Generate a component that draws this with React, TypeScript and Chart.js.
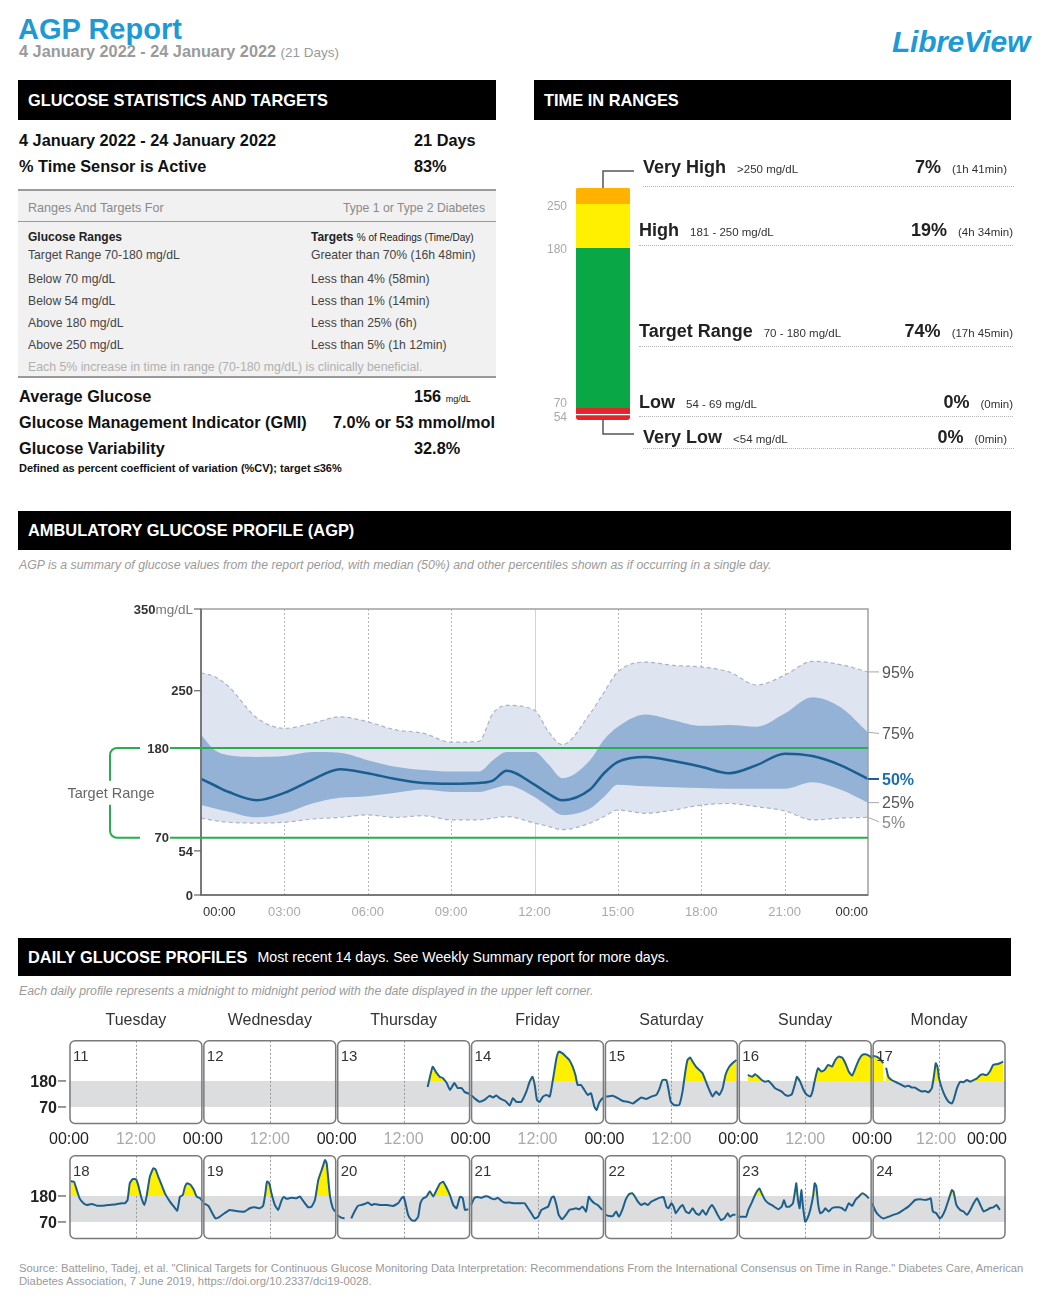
import React, { useEffect, useRef } from 'react';
import { Chart, registerables } from 'chart.js';

Chart.register(...registerables);

const FONT = '"Liberation Sans", Arial, Helvetica, sans-serif';

// ---------------- Time in ranges ----------------
const tirNames = ['Very Low', 'Low', 'Target Range', 'High', 'Very High'];
const tirRanges = ['<54 mg/dL', '54 - 69 mg/dL', '70 - 180 mg/dL', '181 - 250 mg/dL', '>250 mg/dL'];
const tirPercent = [0, 0, 74, 19, 7];
const tirTimes = ['(0min)', '(0min)', '(17h 45min)', '(4h 34min)', '(1h 41min)'];
const tirColors = ['#e3242b', '#e3242b', '#0aa746', '#fff000', '#ffb300'];
const tirBoundLabels = ['54', '70', '180', '250'];
const tirMinShare = 2.5;

// ---------------- AGP percentiles ----------------
const agpHours = [0, 0.5, 1, 2, 3, 4, 5, 6, 7, 8, 9, 10, 10.5, 11, 12, 12.5, 13, 14, 14.5, 15, 16, 17, 18, 19, 20, 21, 22, 23, 24];
const p95 = [272, 267, 255, 217, 204, 210, 218, 212, 202, 198, 187, 188, 222, 232, 226, 200, 184, 222, 248, 273, 285, 281, 279, 273, 257, 269, 286, 282, 273];
const p75 = [196, 177, 171, 169, 170, 175, 174, 165, 157, 153, 151, 151, 165, 175, 175, 160, 143, 165, 190, 206, 221, 214, 207, 208, 206, 222, 242, 230, 199];
const p50 = [142, 134, 126, 116, 125, 141, 154, 149, 142, 137, 136, 137, 140, 152, 135, 124, 116, 129, 149, 163, 169, 164, 157, 149, 159, 173, 170, 159, 142];
const p25 = [110, 106, 102, 95, 100, 112, 119, 121, 125, 129, 126, 126, 130, 134, 120, 108, 98, 106, 120, 135, 133, 132, 131, 130, 130, 130, 138, 129, 113];
const p5 = [94, 91, 89, 88, 89, 93, 95, 98, 95, 97, 92, 92, 94, 96, 88, 84, 80, 88, 96, 104, 100, 104, 110, 112, 108, 103, 92, 94, 95];
const agpTicks = [0, 3, 6, 9, 12, 15, 18, 21, 24];
const agpTickLabels = ['00:00', '03:00', '06:00', '09:00', '12:00', '15:00', '18:00', '21:00', '00:00'];
const agpYTicks = [0, 54, 250, 350];
const agpTargetLines = [180, 70];

// ---------------- Daily profiles ----------------
type Pt = [number, number | null];
const weekdays = ['Tuesday', 'Wednesday', 'Thursday', 'Friday', 'Saturday', 'Sunday', 'Monday'];
const row1Dates = [11, 12, 13, 14, 15, 16, 17];
const row2Dates = [18, 19, 20, 21, 22, 23, 24];

const day11: Pt[] = [];
const day12: Pt[] = [];
const day13: Pt[] = [[16.3, 154], [17.2, 240], [17.9, 214], [18.5, 197], [19.0, 193], [19.7, 172], [20.3, 142], [21.1, 171], [21.7, 150], [22.4, 150], [22.9, 134], [23.8, 125]];
const day14: Pt[] = [[0, 121], [0.7, 107], [1.6, 92], [2.5, 100], [3.4, 117], [4.0, 110], [4.6, 118], [5.2, 107], [5.8, 100], [6.4, 92], [7.0, 76], [7.6, 107], [8.2, 92], [9.1, 92], [10.0, 135], [10.6, 177], [11.1, 198], [11.5, 163], [11.9, 100], [12.4, 92], [13.0, 114], [13.6, 121], [14.2, 114], [14.8, 191], [15.4, 276], [15.8, 304], [16.5, 297], [17.1, 283], [17.7, 269], [18.3, 241], [18.8, 205], [19.2, 163], [19.8, 163], [20.4, 142], [21.0, 121], [21.6, 128], [22.2, 71], [22.6, 57], [23.0, 85], [23.4, 100], [23.8, 110]];
const day15: Pt[] = [[0.3, 114], [1.5, 117], [2.4, 107], [3.3, 95], [4.2, 92], [5.1, 85], [6.0, 100], [6.6, 110], [7.5, 104], [8.4, 114], [9.3, 121], [9.9, 149], [10.4, 184], [11.1, 184], [11.5, 142], [11.9, 92], [12.5, 78], [13.4, 78], [14.0, 135], [14.5, 219], [14.9, 269], [15.4, 279], [15.8, 262], [16.4, 241], [17.0, 227], [17.6, 213], [18.2, 177], [18.8, 142], [19.4, 114], [20.0, 135], [20.6, 121], [21.2, 149], [21.7, 205], [22.4, 241], [23.3, 262], [23.7, 269]];
const day16: Pt[] = [[1.7, 205], [2.5, 198], [3.0, 208], [3.6, 198], [4.2, 184], [4.8, 177], [5.4, 180], [6.0, 166], [6.6, 149], [7.2, 142], [7.8, 135], [8.4, 121], [9.0, 117], [9.6, 124], [10.2, 170], [10.5, 198], [11.1, 177], [11.7, 142], [12.3, 121], [12.9, 114], [13.3, 135], [13.8, 191], [14.3, 234], [14.9, 220], [15.5, 227], [16.1, 248], [16.8, 241], [17.4, 269], [18.0, 283], [18.6, 279], [19.2, 255], [19.8, 220], [20.4, 203], [21.0, 234], [21.6, 269], [22.2, 290], [22.8, 293], [23.4, 287], [24.0, 276]];
const day17: Pt[] = [[0.05, 287], [0.8, 283], [1.4, 273], [2.0, 255], [2.2, null], [2.5, 236], [2.9, 198], [3.5, 184], [4.1, 177], [4.7, 170], [5.3, 163], [5.9, 156], [6.5, 160], [7.1, 152], [7.7, 152], [8.3, 142], [8.9, 135], [9.5, 138], [10.1, 132], [10.7, 149], [11.1, 205], [11.4, 255], [11.7, 241], [12.0, 191], [12.5, 149], [13.1, 114], [13.7, 92], [14.3, 85], [14.7, 107], [15.2, 149], [15.8, 177], [16.4, 175], [17.0, 184], [17.6, 177], [18.2, 184], [18.8, 191], [19.4, 205], [19.9, 208], [20.5, 205], [21.1, 220], [21.7, 248], [22.3, 251], [22.9, 255], [23.5, 262]];
const day18: Pt[] = [[0.3, 243], [0.9, 240], [1.4, 205], [1.9, 170], [2.6, 149], [3.2, 142], [4.1, 146], [5.0, 139], [6.1, 139], [7.3, 142], [8.5, 145], [9.4, 149], [10.0, 149], [10.5, 163], [10.9, 234], [11.4, 251], [12.0, 251], [12.4, 227], [13.0, 170], [13.5, 142], [13.9, 177], [14.5, 262], [15.1, 297], [15.5, 293], [16.0, 262], [16.6, 227], [17.2, 191], [18.1, 156], [18.7, 138], [19.4, 118], [19.9, 177], [20.4, 184], [20.8, 220], [21.2, 234], [21.8, 227], [22.4, 205], [22.9, 177], [23.5, 170], [24.0, 156]];
const day19: Pt[] = [[0.2, 149], [1.0, 138], [1.7, 107], [2.3, 85], [3.0, 92], [3.9, 107], [4.8, 121], [5.7, 117], [6.6, 114], [7.5, 114], [8.4, 128], [9.3, 132], [10.2, 128], [10.8, 138], [11.2, 191], [11.5, 241], [11.9, 234], [12.3, 191], [12.9, 142], [13.5, 121], [14.1, 160], [14.5, 176], [15.0, 168], [15.9, 172], [16.8, 170], [17.4, 178], [17.8, 165], [18.3, 149], [18.9, 132], [19.5, 135], [20.1, 163], [20.7, 248], [21.3, 290], [21.9, 332], [22.2, 318], [22.5, 248], [22.8, 177], [23.3, 128], [23.7, 114]];
const day20: Pt[] = [[0.05, 100], [0.8, 88], [1.4, 85], [2.0, null], [2.6, 85], [3.2, 114], [3.8, 138], [4.4, 142], [5.0, 146], [5.6, 152], [6.2, 142], [6.8, 146], [7.7, 142], [8.9, 142], [10.1, 138], [11.0, 149], [11.6, 170], [12.0, 176], [12.4, 142], [12.8, 100], [13.4, 78], [14.0, 75], [14.6, 92], [15.0, 149], [15.5, 170], [16.1, 177], [16.7, 200], [17.3, 178], [17.9, 205], [18.5, 232], [19.1, 240], [19.7, 215], [20.3, 184], [20.9, 142], [21.5, 128], [22.1, 177], [22.6, 170], [23.0, 121], [23.6, 124]];
const day21: Pt[] = [[0.1, 142], [0.7, 172], [1.3, 176], [1.9, 172], [2.5, 178], [3.1, 178], [3.7, 170], [4.3, 166], [4.9, 172], [5.5, 160], [6.1, 152], [7.0, 152], [7.9, 149], [8.8, 149], [9.7, 149], [10.3, 128], [10.9, 107], [11.5, 85], [12.1, 92], [12.7, 121], [13.3, 128], [13.9, 135], [14.5, 172], [14.9, 178], [15.4, 142], [15.8, 100], [16.4, 81], [17.1, 100], [17.7, 121], [18.3, 124], [18.9, 128], [19.5, 124], [20.1, 135], [20.7, 114], [21.2, 177], [21.6, 163], [22.2, 149], [22.8, 142], [23.6, 121]];
const day22: Pt[] = [[0.2, 100], [0.9, 95], [1.5, 95], [2.1, 114], [2.6, 92], [3.2, 121], [3.8, 163], [4.4, 188], [5.0, 192], [5.4, 180], [6.0, 156], [6.6, 142], [7.2, 149], [7.8, 142], [8.4, 156], [9.0, 163], [9.6, 170], [10.2, 174], [10.6, 176], [11.1, 135], [11.5, 128], [12.0, 149], [12.4, 135], [12.8, 107], [13.4, 128], [14.0, 142], [14.6, 114], [15.2, 107], [15.8, 128], [16.4, 107], [17.0, 100], [17.6, 121], [18.2, 100], [18.8, 128], [19.3, 142], [19.7, 128], [20.3, 100], [20.9, 78], [21.5, 85], [22.1, 107], [22.5, 92], [23.0, 100], [23.5, 100]];
const day23: Pt[] = [[0.05, 92], [0.8, 92], [1.4, 92], [1.8, 121], [2.5, 156], [3.0, 184], [3.5, 205], [3.8, 212], [4.2, 191], [4.8, 163], [5.4, 149], [6.0, 142], [6.6, 132], [7.2, 124], [7.8, 135], [8.2, 163], [8.6, 135], [9.2, 135], [9.8, 149], [10.2, 205], [10.4, 234], [10.7, 163], [11.0, 128], [11.3, 205], [11.6, 135], [12.0, 71], [12.4, 85], [12.9, 121], [13.4, 177], [13.7, 234], [14.0, 220], [14.3, 149], [14.7, 107], [15.2, 114], [15.6, 128], [16.2, 114], [16.8, 128], [17.4, 132], [18.0, 132], [18.6, 128], [19.2, 118], [19.8, 149], [20.4, 138], [21.0, 163], [21.6, 177], [22.2, 191], [22.8, 184], [23.4, 170]];
const day24: Pt[] = [[0, 149], [0.5, 121], [1.1, 100], [2.0, 85], [2.9, 92], [3.8, 100], [4.7, 107], [5.6, 121], [6.5, 135], [7.1, 149], [7.7, 163], [8.6, 166], [9.5, 163], [10.1, 166], [10.5, 170], [10.9, 114], [11.5, 107], [12.1, 85], [12.5, 92], [13.1, 121], [13.7, 163], [14.3, 205], [14.6, 198], [15.1, 142], [15.8, 121], [16.4, 114], [17.0, 100], [17.6, 121], [18.2, 149], [18.8, 170], [19.4, 142], [20.0, 114], [20.6, 121], [21.1, 128], [21.7, 132], [22.3, 142], [22.9, 121]];
const row1Data = [day11, day12, day13, day14, day15, day16, day17];
const row2Data = [day18, day19, day20, day21, day22, day23, day24];
const dailyYLabels = [180, 70];

// ---------------- helpers ----------------
function cText(ctx: any, s: string, x: number, cy: number, size: number, o: { bold?: boolean; color?: string; align?: string; italic?: boolean } = {}) {
  ctx.font = `${o.italic ? 'italic ' : ''}${o.bold ? 'bold ' : ''}${size}px ${FONT}`;
  ctx.fillStyle = o.color || '#333';
  ctx.textAlign = o.align || 'left';
  ctx.textBaseline = 'alphabetic';
  ctx.fillText(s, x, cy + 0.358 * size);
}

function ChartBox({ left, top, width, height, make }: { left: number; top: number; width: number; height: number; make: () => any }) {
  const ref = useRef<HTMLCanvasElement>(null);
  useEffect(() => {
    if (!ref.current) return;
    const chart = new Chart(ref.current, make());
    return () => chart.destroy();
  }, []);
  return <canvas ref={ref} width={width} height={height} style={{ position: 'absolute', left, top, width, height }} />;
}

type TP = { x: number; cy: number; s: number; b?: boolean; c?: string; it?: boolean; right?: boolean; children: React.ReactNode };
function T({ x, cy, s, b, c = '#111', it, right, children }: TP) {
  const style: React.CSSProperties = {
    position: 'absolute',
    top: cy - 0.5635 * s,
    fontSize: s,
    lineHeight: `${1.15 * s}px`,
    fontWeight: b ? 700 : 400,
    fontStyle: it ? 'italic' : 'normal',
    color: c,
    whiteSpace: 'nowrap',
  };
  if (right) style.right = 1047 - x;
  else style.left = x;
  return <div style={style}>{children}</div>;
}

function BlackBar({ x, y, w, h, children }: { x: number; y: number; w: number; h: number; children: React.ReactNode }) {
  return (
    <div style={{ position: 'absolute', left: x, top: y, width: w, height: h, background: '#000', color: '#fff', display: 'flex', alignItems: 'center', paddingLeft: 10, boxSizing: 'border-box', fontWeight: 700, fontSize: 16.4, whiteSpace: 'nowrap' }}>
      {children}
    </div>
  );
}

// ---------------- TIR chart ----------------
function tirDisplayValues() {
  const d = tirPercent.map((p) => Math.max(p, tirMinShare));
  const excess = d.reduce((s, v) => s + v, 0) - 100;
  const iMax = tirPercent.indexOf(Math.max(...tirPercent));
  d[iMax] -= excess;
  return d;
}

const tirPlugin = {
  id: 'tirDecor',
  afterDatasetsDraw(chart: any) {
    const { ctx, chartArea: a, scales } = chart;
    const y = scales.y;
    const disp = tirDisplayValues();
    ctx.save();
    let cum = 0;
    const bounds: number[] = [];
    disp.forEach((v) => {
      cum += v;
      bounds.push(y.getPixelForValue(cum));
    });
    const offs = [3, -6, 0, 1];
    tirBoundLabels.forEach((l, i) => {
      cText(ctx, l, a.left - 9, bounds[i] + offs[i], 12, { color: '#a8a8a8', align: 'right' });
    });
    const cx = (a.left + a.right) / 2;
    ctx.strokeStyle = '#555';
    ctx.lineWidth = 1.5;
    ctx.beginPath();
    ctx.moveTo(cx, a.top);
    ctx.lineTo(cx, a.top - 17);
    ctx.lineTo(cx + 31, a.top - 17);
    ctx.moveTo(cx, a.bottom);
    ctx.lineTo(cx, a.bottom + 14);
    ctx.lineTo(cx + 31, a.bottom + 14);
    ctx.stroke();
    ctx.restore();
  },
};

function makeTir() {
  const disp = tirDisplayValues();
  return {
    type: 'bar',
    data: {
      labels: [''],
      datasets: tirNames.map((n, i) => ({
        label: n,
        data: [disp[i]],
        backgroundColor: tirColors[i],
        borderColor: '#ffffff',
        borderWidth: i === 0 ? { top: 1.5, bottom: 0, left: 0, right: 0 } : 0,
        borderSkipped: false,
        borderRadius: i === 4 ? { topLeft: 3, topRight: 3, bottomLeft: 0, bottomRight: 0 } : i === 0 ? { topLeft: 0, topRight: 0, bottomLeft: 3, bottomRight: 3 } : 0,
        barPercentage: 1,
        categoryPercentage: 1,
      })),
    },
    options: {
      animation: false,
      responsive: false,
      events: [],
      layout: { padding: { left: 42, right: 381, top: 58, bottom: 40 } },
      plugins: { legend: { display: false }, tooltip: { enabled: false } },
      scales: {
        x: { display: false, stacked: true },
        y: { display: false, stacked: true, min: 0, max: 100 },
      },
    },
    plugins: [tirPlugin],
  };
}

// ---------------- AGP chart ----------------
const agpPlugin = {
  id: 'agpDecor',
  beforeDatasetsDraw(chart: any) {
    const { ctx, chartArea: a, scales } = chart;
    const x = scales.x;
    ctx.save();
    agpTicks.forEach((h) => {
      if (h === 0 || h === 24) return;
      const px = Math.round(x.getPixelForValue(h)) + 0.5;
      ctx.beginPath();
      ctx.strokeStyle = h === 12 ? '#d2d2d2' : '#b8b8b8';
      ctx.lineWidth = 1;
      ctx.setLineDash(h === 12 ? [] : [2, 2]);
      ctx.moveTo(px, a.top);
      ctx.lineTo(px, a.bottom);
      ctx.stroke();
    });
    ctx.restore();
  },
  afterDatasetsDraw(chart: any) {
    const { ctx, chartArea: a, scales } = chart;
    const x = scales.x;
    const y = scales.y;
    ctx.save();
    ctx.setLineDash([]);
    ctx.strokeStyle = '#a0a0a0';
    ctx.lineWidth = 1.5;
    ctx.strokeRect(a.left, a.top, a.right - a.left, a.bottom - a.top);
    ctx.strokeStyle = '#666';
    ctx.beginPath();
    ctx.moveTo(a.left, a.top);
    ctx.lineTo(a.left, a.bottom);
    ctx.lineTo(a.right, a.bottom);
    ctx.stroke();

    agpYTicks.forEach((v) => {
      const py = y.getPixelForValue(v);
      ctx.strokeStyle = '#666';
      ctx.lineWidth = 1.2;
      ctx.beginPath();
      ctx.moveTo(a.left - 7, py);
      ctx.lineTo(a.left, py);
      ctx.stroke();
      if (v === 350) {
        ctx.font = `13.5px ${FONT}`;
        const w = ctx.measureText('mg/dL').width;
        cText(ctx, 'mg/dL', a.left - 8, py, 13.5, { color: '#777', align: 'right' });
        cText(ctx, String(v), a.left - 8 - w, py, 13, { bold: true, color: '#333', align: 'right' });
      } else {
        cText(ctx, String(v), a.left - 8, py, 13, { bold: true, color: '#333', align: 'right' });
      }
    });

    const green = '#2aad4e';
    const ys = agpTargetLines.map((v) => y.getPixelForValue(v));
    ctx.strokeStyle = green;
    ctx.lineWidth = 2;
    ys.forEach((py, i) => {
      ctx.beginPath();
      ctx.moveTo(a.left - 31, py);
      ctx.lineTo(a.right, py);
      ctx.stroke();
      cText(ctx, String(agpTargetLines[i]), a.left - 32, py, 13, { bold: true, color: '#333', align: 'right' });
    });
    const bx = a.left - 91;
    const bEnd = a.left - 61;
    const r = 7;
    const mid = (ys[0] + ys[1]) / 2;
    ctx.beginPath();
    ctx.moveTo(bEnd, ys[0]);
    ctx.lineTo(bx + r, ys[0]);
    ctx.arcTo(bx, ys[0], bx, ys[0] + r, r);
    ctx.lineTo(bx, mid - 12);
    ctx.moveTo(bx, mid + 12);
    ctx.lineTo(bx, ys[1] - r);
    ctx.arcTo(bx, ys[1], bx + r, ys[1], r);
    ctx.lineTo(bEnd, ys[1]);
    ctx.stroke();
    cText(ctx, 'Target Range', bx + 1, mid, 14.5, { color: '#666', align: 'center' });

    const series = [p95, p75, p50, p25, p5];
    const names = ['95%', '75%', '50%', '25%', '5%'];
    const dy = [0, 1, 0, 0, 4.5];
    series.forEach((s, i) => {
      const py = y.getPixelForValue(s[s.length - 1]);
      const ly = py + dy[i];
      const isMed = i === 2;
      ctx.strokeStyle = isMed ? '#1a5d8f' : '#a8a8a8';
      ctx.lineWidth = isMed ? 2 : 1;
      ctx.beginPath();
      ctx.moveTo(a.right, py);
      ctx.lineTo(a.right + 11, ly);
      ctx.stroke();
      cText(ctx, names[i], a.right + 14, ly, 16, { color: isMed ? '#1b6fae' : i === 4 ? '#888' : '#555', bold: isMed });
    });

    agpTicks.forEach((h, i) => {
      const px = x.getPixelForValue(h);
      const edge = i === 0 || i === agpTicks.length - 1;
      const align = i === 0 ? 'left' : i === agpTicks.length - 1 ? 'right' : 'center';
      cText(ctx, agpTickLabels[i], i === 0 ? px + 2 : px, a.bottom + 16.5, 13, { color: edge ? '#333' : '#aaa', align });
    });
    ctx.restore();
  },
};

function makeAgp() {
  const pts = (arr: number[]) => agpHours.map((h, i) => ({ x: h, y: arr[i] }));
  const common = { pointRadius: 0, cubicInterpolationMode: 'monotone' };
  return {
    type: 'line',
    data: {
      datasets: [
        { ...common, label: '50%', data: pts(p50), borderColor: '#1a5d8f', borderWidth: 2.5, fill: false, order: 0 },
        { ...common, label: '75%', data: pts(p75), borderColor: 'rgba(0,0,0,0)', borderWidth: 0, backgroundColor: '#94b2d6', fill: 2, order: 1 },
        { ...common, label: '25%', data: pts(p25), borderColor: 'rgba(0,0,0,0)', borderWidth: 0, fill: false, order: 2 },
        { ...common, label: '95%', data: pts(p95), borderColor: '#a9b3c8', borderWidth: 1.2, borderDash: [4, 3], backgroundColor: '#dfe5f0', fill: 4, order: 4 },
        { ...common, label: '5%', data: pts(p5), borderColor: '#a9b3c8', borderWidth: 1.2, borderDash: [4, 3], fill: false, order: 3 },
      ],
    },
    options: {
      animation: false,
      responsive: false,
      events: [],
      layout: { padding: { left: 183, right: 143, top: 14, bottom: 30 } },
      plugins: { legend: { display: false }, tooltip: { enabled: false } },
      scales: {
        x: { type: 'linear', display: false, min: 0, max: 24 },
        y: { type: 'linear', display: false, min: 0, max: 350 },
      },
    },
    plugins: [agpPlugin],
  };
}

// ---------------- Daily charts ----------------
function dailyPlugin(dates: number[], showTop: boolean) {
  return {
    id: 'dailyDecor',
    beforeDatasetsDraw(chart: any) {
      const { ctx, chartArea: a, scales } = chart;
      const x = scales.x;
      const y = scales.y;
      ctx.save();
      const y180 = y.getPixelForValue(180);
      const y70 = y.getPixelForValue(70);
      ctx.fillStyle = '#dcdddf';
      ctx.fillRect(a.left, y180, a.right - a.left, y70 - y180);
      ctx.strokeStyle = '#9a9a9a';
      ctx.lineWidth = 1;
      ctx.setLineDash([2, 2]);
      dates.forEach((_, d) => {
        const px = Math.round(x.getPixelForValue(d * 24 + 12)) + 0.5;
        ctx.beginPath();
        ctx.moveTo(px, a.top);
        ctx.lineTo(px, a.bottom);
        ctx.stroke();
      });
      ctx.restore();
    },
    afterDatasetsDraw(chart: any) {
      const { ctx, chartArea: a, scales } = chart;
      const x = scales.x;
      const y = scales.y;
      ctx.save();
      ctx.setLineDash([]);
      ctx.strokeStyle = '#7a7a7a';
      ctx.lineWidth = 1.5;
      dates.forEach((dt, d) => {
        const x0 = x.getPixelForValue(d * 24) + 1;
        const x1 = x.getPixelForValue(d * 24 + 24) - 1;
        ctx.beginPath();
        ctx.roundRect(x0, a.top, x1 - x0, a.bottom - a.top, 5);
        ctx.stroke();
        cText(ctx, String(dt), x0 + 3, a.top + 15, 15, { color: '#333' });
        if (showTop) {
          cText(ctx, weekdays[d], x.getPixelForValue(d * 24 + 12), a.top - 21.8, 16, { color: '#333', align: 'center' });
        }
      });
      dailyYLabels.forEach((v) => {
        const py = y.getPixelForValue(v);
        ctx.strokeStyle = '#555';
        ctx.lineWidth = 1.2;
        ctx.beginPath();
        ctx.moveTo(a.left - 11, py);
        ctx.lineTo(a.left - 3, py);
        ctx.stroke();
        cText(ctx, String(v), a.left - 12, py, 16, { bold: true, color: '#222', align: 'right' });
      });
      if (showTop) {
        const n = dates.length;
        for (let d = 0; d <= n; d++) {
          const px = x.getPixelForValue(d * 24);
          if (d === n) cText(ctx, '00:00', px + 1, a.bottom + 15, 16, { color: '#222', align: 'right' });
          else cText(ctx, '00:00', px, a.bottom + 15, 16, { color: '#222', align: 'center' });
          if (d < n) {
            const nx = x.getPixelForValue(d * 24 + 12) - (d === n - 1 ? 3 : 0);
            cText(ctx, '12:00', nx, a.bottom + 15, 16, { color: '#aaa', align: 'center' });
          }
        }
      }
      ctx.restore();
    },
  };
}

function makeDaily(rows: Pt[][], dates: number[], showTop: boolean, padTop: number, padBottom: number) {
  return {
    type: 'line',
    data: {
      datasets: rows.map((pts, d) => ({
        label: String(dates[d]),
        data: pts.map(([h, v]) => ({ x: d * 24 + h, y: v })),
        borderColor: '#1d5f8c',
        borderWidth: 2,
        pointRadius: 0,
        tension: 0.15,
        spanGaps: false,
        fill: { target: { value: 180 }, above: '#fff000', below: 'rgba(0,0,0,0)' },
      })),
    },
    options: {
      animation: false,
      responsive: false,
      events: [],
      layout: { padding: { left: 69, right: 41, top: padTop, bottom: padBottom } },
      plugins: { legend: { display: false }, tooltip: { enabled: false } },
      scales: {
        x: { type: 'linear', display: false, min: 0, max: 168 },
        y: { type: 'linear', display: false, min: 0, max: 350 },
      },
    },
    plugins: [dailyPlugin(dates, showTop)],
  };
}

// ---------------- TIR rows layout ----------------
const tirRowLayout = [
  { nameX: 643, cy: 437, right: 1007, lineY: 448, lx1: 643, lx2: 1014 },
  { nameX: 639, cy: 402, right: 1013, lineY: 416, lx1: 639, lx2: 1013 },
  { nameX: 639, cy: 331, right: 1013, lineY: 346, lx1: 639, lx2: 1013 },
  { nameX: 639, cy: 230, right: 1013, lineY: 245, lx1: 639, lx2: 1013 },
  { nameX: 643, cy: 167, right: 1007, lineY: 186, lx1: 643, lx2: 1014 },
];

export default function App() {
  const grey = '#444';
  return (
    <div style={{ position: 'absolute', left: 0, top: 0, width: 1047, height: 1309, overflow: 'hidden', background: '#fff', fontFamily: FONT, color: '#111' }}>
      <T x={18} cy={29} s={29} b c="#1d9ad6">AGP Report</T>
      <T x={19} cy={51} s={16.3} b c="#9a9a9a">
        4 January 2022 - 24 January 2022 <span style={{ fontSize: 13.5, fontWeight: 400 }}>(21 Days)</span>
      </T>
      <T x={1030} cy={42} s={30} b it c="#1d9ad6" right>
        <span style={{ letterSpacing: -0.3 }}>LibreView</span>
      </T>

      <BlackBar x={18} y={80} w={478} h={40}>GLUCOSE STATISTICS AND TARGETS</BlackBar>
      <BlackBar x={534} y={80} w={477} h={40}>TIME IN RANGES</BlackBar>

      <T x={19} cy={140} s={16.3} b>4 January 2022 - 24 January 2022</T>
      <T x={414} cy={140} s={16.3} b>21 Days</T>
      <T x={19} cy={166} s={16.3} b>% Time Sensor is Active</T>
      <T x={414} cy={166} s={16.3} b>83%</T>

      <div style={{ position: 'absolute', left: 18, top: 189, width: 478, height: 189, background: '#f1f1f1', borderTop: '2px solid #9a9a9a', borderBottom: '2px solid #9a9a9a', boxSizing: 'border-box' }} />
      <div style={{ position: 'absolute', left: 18, top: 221, width: 478, height: 0, borderTop: '1.5px solid #9a9a9a' }} />
      <T x={28} cy={208} s={12.6} c="#8a8a8a">Ranges And Targets For</T>
      <T x={485} cy={208} s={12.2} c="#8a8a8a" right>Type 1 or Type 2 Diabetes</T>
      <T x={28} cy={238} s={12} b c="#222">Glucose Ranges</T>
      <T x={311} cy={238} s={12} b c="#222">
        Targets <span style={{ fontSize: 10, fontWeight: 400 }}>% of Readings (Time/Day)</span>
      </T>
      <T x={28} cy={255} s={12.2} c={grey}>Target Range 70-180 mg/dL</T>
      <T x={311} cy={255} s={12.2} c={grey}>Greater than 70% (16h 48min)</T>
      <T x={28} cy={279} s={12.2} c={grey}>Below 70 mg/dL</T>
      <T x={311} cy={279} s={12.2} c={grey}>Less than 4% (58min)</T>
      <T x={28} cy={301} s={12.2} c={grey}>Below 54 mg/dL</T>
      <T x={311} cy={301} s={12.2} c={grey}>Less than 1% (14min)</T>
      <T x={28} cy={323} s={12.2} c={grey}>Above 180 mg/dL</T>
      <T x={311} cy={323} s={12.2} c={grey}>Less than 25% (6h)</T>
      <T x={28} cy={345} s={12.2} c={grey}>Above 250 mg/dL</T>
      <T x={311} cy={345} s={12.2} c={grey}>Less than 5% (1h 12min)</T>
      <T x={28} cy={367} s={12.3} c="#b0b0b0">Each 5% increase in time in range (70-180 mg/dL) is clinically beneficial.</T>

      <T x={19} cy={396} s={16.3} b>Average Glucose</T>
      <T x={414} cy={396} s={16.3} b>
        156 <span style={{ fontSize: 9, fontWeight: 400 }}>mg/dL</span>
      </T>
      <T x={19} cy={422} s={16.3} b>Glucose Management Indicator (GMI)</T>
      <T x={333} cy={422} s={16.3} b>7.0% or 53 mmol/mol</T>
      <T x={19} cy={448} s={16.3} b>Glucose Variability</T>
      <T x={414} cy={448} s={16.3} b>32.8%</T>
      <T x={19} cy={468} s={11} b>Defined as percent coefficient of variation (%CV); target ≤36%</T>

      <ChartBox left={534} top={130} width={477} height={330} make={makeTir} />
      {tirNames.map((n, i) => {
        const L = tirRowLayout[i];
        return (
          <React.Fragment key={n}>
            <T x={L.nameX} cy={L.cy} s={18} b c="#222">
              {n}
              <span style={{ fontSize: 11.5, fontWeight: 400, marginLeft: 11, color: '#333' }}>{tirRanges[i]}</span>
            </T>
            <T x={L.right} cy={L.cy} s={18} b c="#222" right>
              {tirPercent[i]}%
              <span style={{ fontSize: 11.5, fontWeight: 400, marginLeft: 11, color: '#333' }}>{tirTimes[i]}</span>
            </T>
            <div style={{ position: 'absolute', left: L.lx1, top: L.lineY, width: L.lx2 - L.lx1, height: 0, borderTop: '1.5px dotted #b5b5b5' }} />
          </React.Fragment>
        );
      })}

      <BlackBar x={18} y={511} w={993} h={39}>AMBULATORY GLUCOSE PROFILE (AGP)</BlackBar>
      <T x={19} cy={565} s={12.3} it c="#9a9a9a">
        AGP is a summary of glucose values from the report period, with median (50%) and other percentiles shown as if occurring in a single day.
      </T>
      <ChartBox left={18} top={595} width={993} height={330} make={makeAgp} />

      <BlackBar x={18} y={938} w={993} h={38}>
        DAILY GLUCOSE PROFILES
        <span style={{ fontSize: 14.2, fontWeight: 400, marginLeft: 10 }}>Most recent 14 days. See Weekly Summary report for more days.</span>
      </BlackBar>
      <T x={19} cy={991} s={12.3} it c="#9a9a9a">
        Each daily profile represents a midnight to midnight period with the date displayed in the upper left corner.
      </T>
      <ChartBox left={0} top={1005} width={1047} height={145} make={() => makeDaily(row1Data, row1Dates, true, 35.8, 26.5)} />
      <ChartBox left={0} top={1145} width={1047} height={100} make={() => makeDaily(row2Data, row2Dates, false, 10.8, 6.5)} />

      <div style={{ position: 'absolute', left: 19, top: 1262, fontSize: 11.25, lineHeight: '12.5px', color: '#9a9a9a', whiteSpace: 'nowrap' }}>
        Source: Battelino, Tadej, et al. "Clinical Targets for Continuous Glucose Monitoring Data Interpretation: Recommendations From the International Consensus on Time in Range." Diabetes Care, American
        <br />
        Diabetes Association, 7 June 2019, https://doi.org/10.2337/dci19-0028.
      </div>
    </div>
  );
}
